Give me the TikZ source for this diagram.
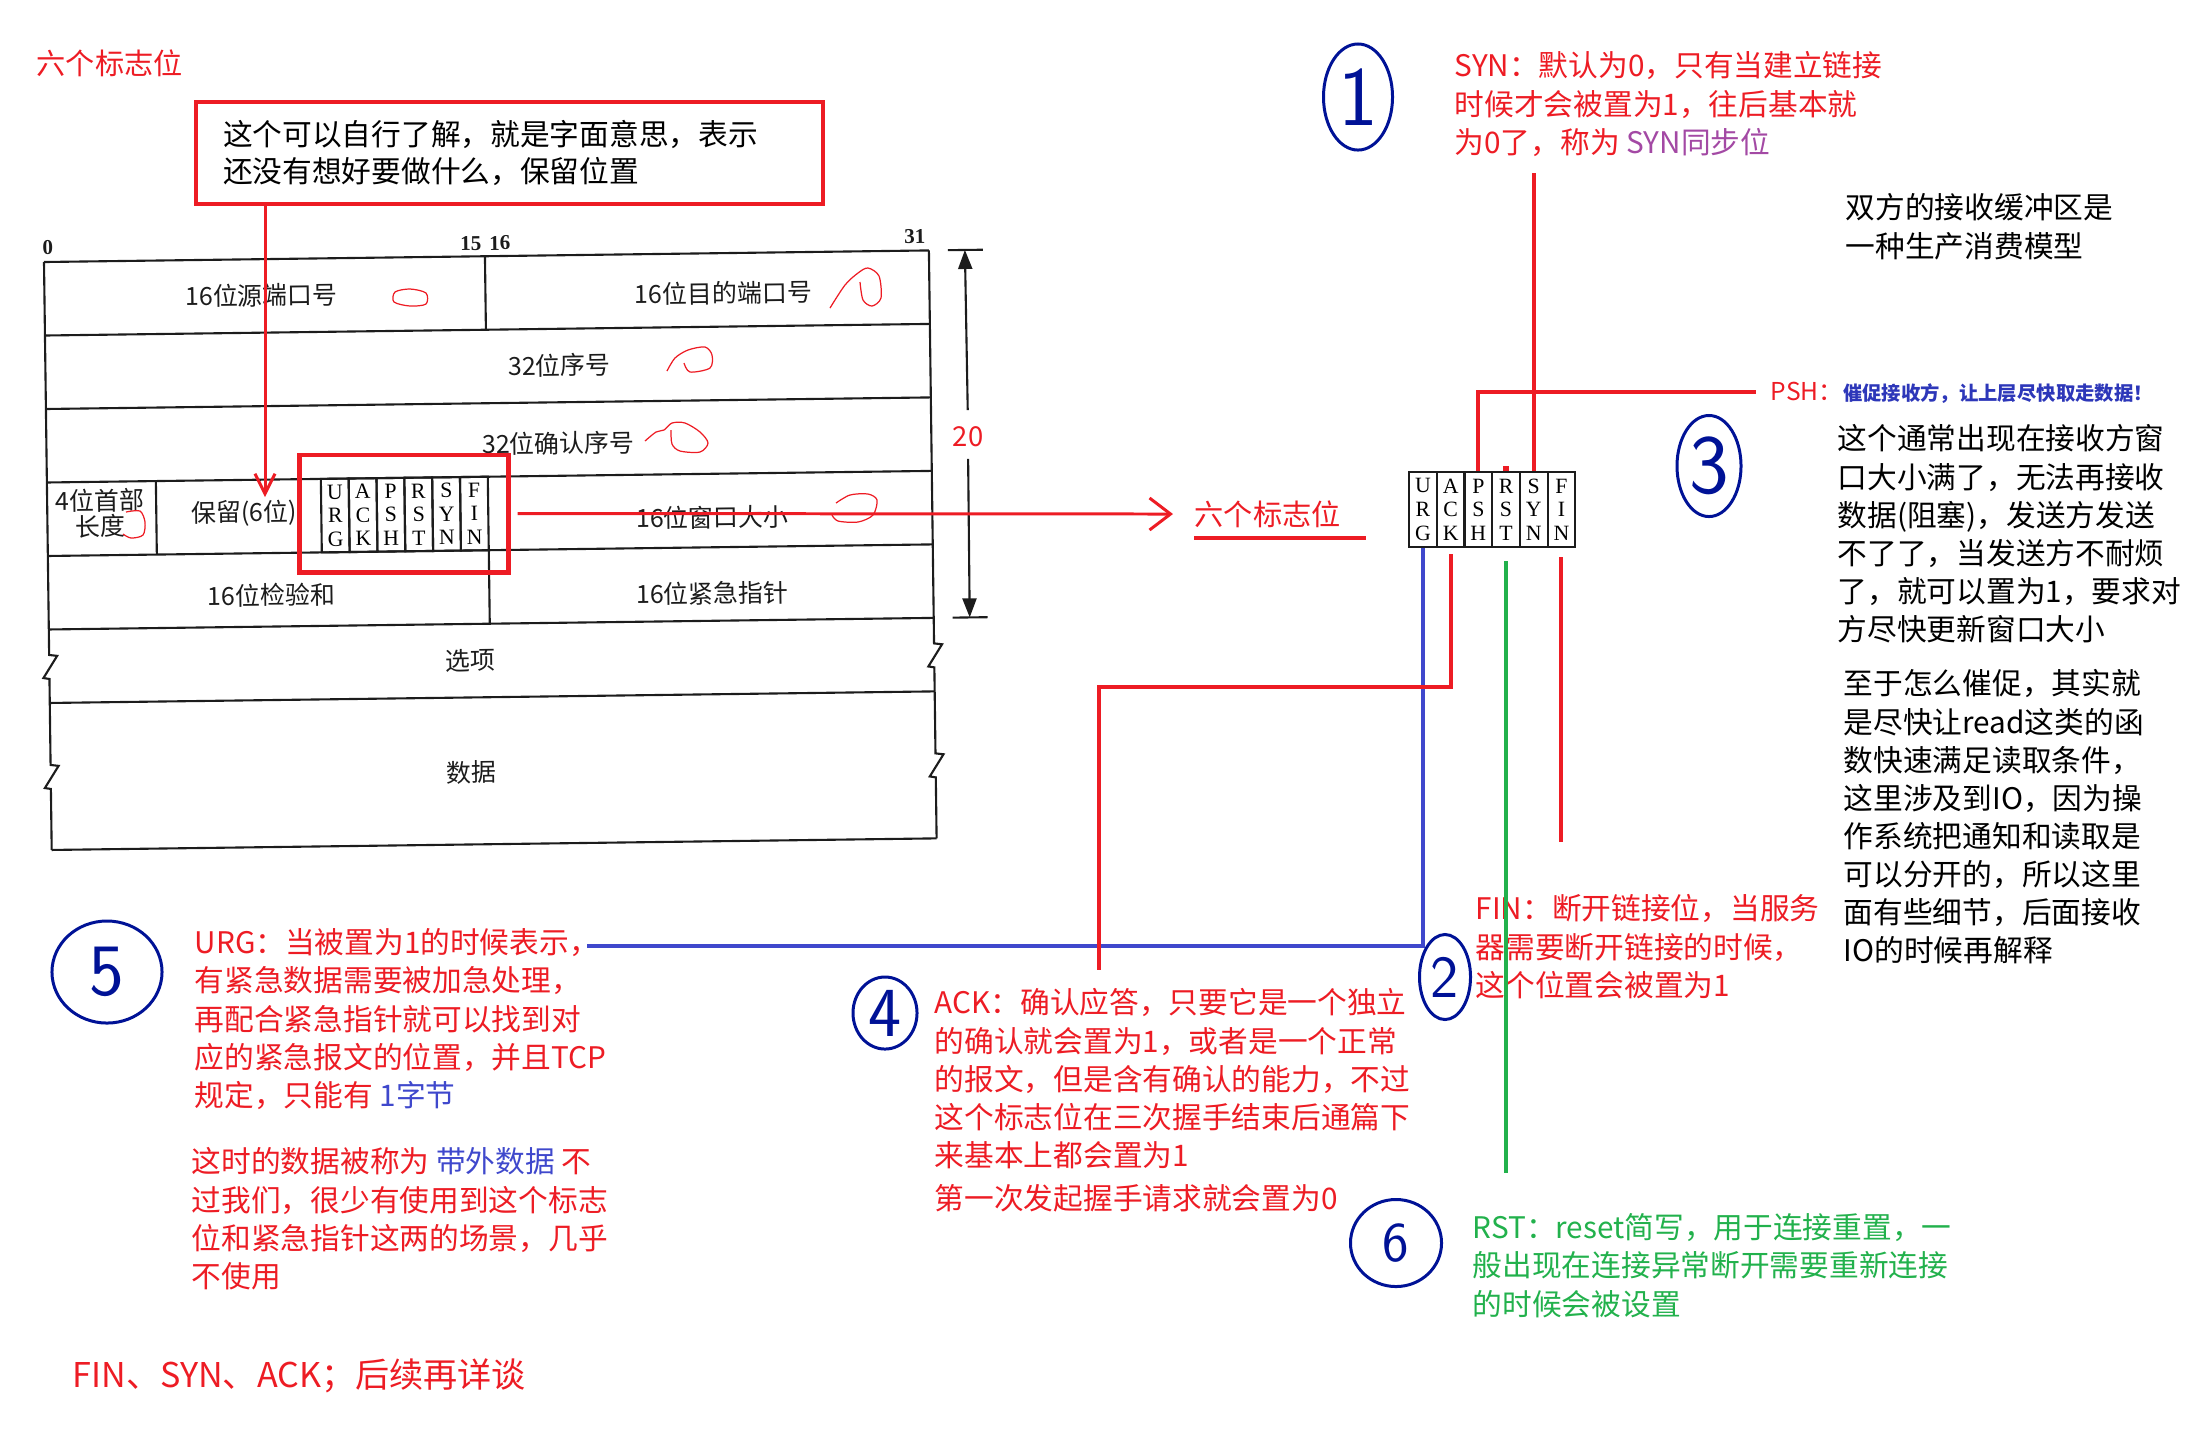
\documentclass[tikz,border=0pt]{standalone}
\usepackage{fontspec}
\usepackage{xcolor}
\usepackage{tikz}
\usetikzlibrary{arrows.meta,shapes.geometric}
\newfontfamily\cjk{Noto Sans CJK SC}
\newfontfamily\hdrserif{Liberation Serif}
\definecolor{figred}{RGB}{237,28,36}
\definecolor{figblue}{RGB}{63,72,204}
\definecolor{figgreen}{RGB}{34,177,76}
\definecolor{figpurple}{RGB}{163,73,164}
\definecolor{fignavy}{RGB}{0,18,150}
\definecolor{figpsh}{RGB}{45,55,185}
\definecolor{figink}{RGB}{28,28,28}
\tikzset{
  hl/.style   ={draw=figink, line width=0.6pt},
  hlab/.style ={font=\cjk\fontsize{7.1}{7.3}\selectfont, text=figink, inner sep=0pt, align=center},
  hnum/.style ={font=\hdrserif\bfseries\fontsize{6}{7}\selectfont, text=figink, inner sep=0pt},
  flg/.style  ={draw=figink, line width=0.6pt, minimum width=0.278cm, minimum height=0.735cm,
                inner sep=0pt, align=center, font=\hdrserif\fontsize{6.2}{6.7}\selectfont},
  ann/.style  ={font=\cjk\fontsize{8.45}{10.85}\selectfont, inner sep=0pt, align=left, anchor=north west},
  rtxt/.style ={ann, text=figred},
  gtxt/.style ={ann, text=figgreen},
  ktxt/.style ={ann, text=black},
  rthin/.style={draw=figred, line width=0.85pt},
  rline/.style={draw=figred, line width=1.15pt},
  bline/.style={draw=figblue, line width=1.15pt},
  gline/.style={draw=figgreen, line width=1.15pt},
  scrib/.style={draw=figred, line width=0.35pt},
  circ/.style ={draw=fignavy, line width=0.85pt, ellipse, inner sep=0pt, text=fignavy},
  dimarr/.style={draw=figink, line width=0.6pt, -{Triangle[length=0.19cm,width=0.14cm]}},
}
\begin{document}
\begin{tikzpicture}[x=0.01cm, y=-0.01cm]
  \useasboundingbox (0,0) rectangle (2186,1438);
  \begin{scope}[shift={(44,262)}, rotate=0.75, transform shape]
  \draw[hl] (0,0) -- (885,0);
  \draw[hl] (0,73.5) -- (885,73.5);
  \draw[hl] (0,147) -- (885,147);
  \draw[hl] (0,220.5) -- (885,220.5);
  \draw[hl] (0,294) -- (885,294);
  \draw[hl] (0,367.5) -- (885,367.5);
  \draw[hl] (0,441) -- (885,441);
  \draw[hl] (0,588) -- (885,588);
  \draw[hl] (0,0) -- (0,393) -- (8,394) -- (-6,416) -- (0,417) -- (0,503) -- (8,504) -- (-6,526) -- (0,527) -- (0,588);
  \draw[hl] (885,0) -- (885,393) -- (893,394) -- (879,416) -- (885,417) -- (885,503) -- (893,504) -- (879,526) -- (885,527) -- (885,588);
  \draw[hl] (441,0) -- (441,73.5);
  \draw[hl] (441,294) -- (441,367.5);
  \draw[hl] (109,220.5) -- (109,294);
  \foreach \a/\b/\c [count=\i from 0] in {U/R/G,A/C/K,P/S/H,R/S/T,S/Y/N,F/I/N}
    \node[flg] (hf\i) at (287.9+27.83*\i,257.25) {\a\\\b\\\c};
  \node[hnum] (bit0) at (4,-14) {0};
  \node[hnum] (bit15) at (427,-13) {15};
  \node[hnum] (bit16) at (456,-13) {16};
  \node[hnum] (bit31) at (871,-14) {31};
  \node[hlab] (srcport) at (217,36) {16位源端口号};
  \node[hlab] (dstport) at (679,40) {16位目的端口号};
  \node[hlab] (seqno) at (514,110) {32位序号};
  \node[hlab] (ackno) at (512,188) {32位确认序号};
  \node[hlab] (hdrlen) at (53,252) {4位首部\\长度};
  \node[hlab] (resv) at (197,254) {保留(6位)};
  \node[hlab] (winsz) at (665,264) {16位窗口大小};
  \node[hlab] (cksum) at (223,336) {16位检验和};
  \node[hlab] (urgptr) at (664,340) {16位紧急指针};
  \node[hlab] (opts) at (421,404) {选项};
  \node[hlab] (payload) at (421,516) {数据};
  \draw[hl] (904,0) -- (939,0);
  \draw[hl] (904,367.5) -- (939,367.5);
  \coordinate (dimtop) at (921,0);
  \coordinate (dimbot) at (921,367.5);
  \end{scope}
  \node[font=\cjk\fontsize{7.8}{8}\selectfont, text=figred, inner sep=0pt] (dimlbl) at (968,437) {20};
  \draw[dimarr, shorten <=0.16cm] (dimlbl.north) -- (dimtop);
  \draw[dimarr, shorten <=0.11cm] (dimlbl.south) -- (dimbot);
  \draw[scrib] plot[smooth cycle] coordinates {(395,292) (410,289) (426,293) (426,304) (410,306) (394,302)};
  \draw[scrib] plot[smooth] coordinates {(830,308) (845,285) (858,273) (868,268) (879,276) (881,298) (872,306) (863,300) (860,282)};
  \draw[scrib] plot[smooth] coordinates {(667,371) (675,358) (688,350) (705,347) (712,355) (710,368) (690,372) (684,363)};
  \draw[scrib] plot[smooth] coordinates {(645,441) (656,432) (664,430) (672,423) (685,423) (700,432) (708,443) (700,452) (680,451) (672,444) (671,430)};
  \draw[scrib] plot[smooth] coordinates {(126,512) (140,511) (145,522) (143,535) (131,538) (123,534)};
  \draw[scrib] plot[smooth] coordinates {(836,503) (850,495) (868,494) (877,500) (873,515) (858,522) (838,521) (832,515)};
  \node[rtxt, anchor=west, font=\cjk\fontsize{8.3}{9}\selectfont] (toplbl) at (36,63) {六个标志位};
  \node[ktxt, draw=figred, line width=1.15pt, minimum width=6.27cm, minimum height=1.02cm,
        text width=5.73cm, inner xsep=0.27cm, inner ysep=0pt,
        font=\cjk\fontsize{8.45}{10.5}\selectfont] (notebox) at (194,100)
        {这个可以自行了解，就是字面意思，表示\\还没有想好要做什么，保留位置};
  \coordinate (resvtip) at (265,497);
  \draw[rthin, -{Straight Barb[length=0.2cm,width=0.2cm]}] (notebox.south -| resvtip) -- (resvtip);
  \node[draw=figred, line width=1.4pt, minimum width=2.08cm, minimum height=1.17cm, inner sep=0pt] (flagbox) at (404,513.5) {};
  \node[rtxt, anchor=west, font=\cjk\fontsize{8.3}{9}\selectfont] (sixlbl) at (1194,514) {六个标志位};
  \draw[rthin, -{Straight Barb[length=0.21cm,width=0.32cm]}] ([xshift=0.07cm]flagbox.east) -- ([xshift=-0.21cm]sixlbl.west);
  \draw[rline] ([yshift=-0.095cm]sixlbl.south west) -- ++(172,0);
  \foreach \a/\b/\c/\n [count=\i from 0] in {U/R/G/urg,A/C/K/ack,P/S/H/psh,R/S/T/rst,S/Y/N/syn,F/I/N/fin}
    \node[flg, minimum width=0.277cm, minimum height=0.75cm] (\n) at (1422.9+27.7*\i,509.5) {\a\\\b\\\c};
  \node[rtxt] (synnote) at (1454,51) {SYN：默认为0，只有当建立链接\\时候才会被置为1，往后基本就\\为0了，称为 {\color{figpurple}SYN同步位}};
  \node[ktxt] (bufnote) at (1845,193) {双方的接收缓冲区是\\一种生产消费模型};
  \node[rtxt, anchor=west] (pshnote) at (1770,393) {{\fontsize{7}{8}\selectfont PSH：}{\color{figpsh}\bfseries\fontsize{5.5}{6.5}\selectfont 催促接收方，让上层尽快取走数据！}};
  \node[ktxt] (winnote) at (1837,424) {这个通常出现在接收方窗\\口大小满了，无法再接收\\数据(阻塞)，发送方发送\\不了了，当发送方不耐烦\\了，就可以置为1，要求对\\方尽快更新窗口大小};
  \node[ktxt] (pushnote) at (1843,669) {至于怎么催促，其实就\\是尽快让read这类的函\\数快速满足读取条件，\\这里涉及到IO，因为操\\作系统把通知和读取是\\可以分开的，所以这里\\面有些细节，后面接收\\IO的时候再解释};
  \node[rtxt] (finnote) at (1475,894) {FIN：断开链接位，当服务\\器需要断开链接的时候，\\这个位置会被置为1};
  \node[gtxt] (rstnote) at (1472,1213) {RST：reset简写，用于连接重置，一\\般出现在连接异常断开需要重新连接\\的时候会被设置};
  \node[rtxt] (acknote) at (934,988) {ACK：确认应答，只要它是一个独立\\的确认就会置为1，或者是一个正常\\的报文，但是含有确认的能力，不过\\这个标志位在三次握手结束后通篇下\\来基本上都会置为1};
  \node[rtxt] (synack) at (934,1184) {第一次发起握手请求就会置为0};
  \node[rtxt] (urgnote) at (194,928) {URG：当被置为1的时候表示，\\有紧急数据需要被加急处理，\\再配合紧急指针就可以找到对\\应的紧急报文的位置，并且TCP\\规定，只能有 {\color{figblue}1字节}};
  \node[rtxt] (oobnote) at (191,1147) {这时的数据被称为 {\color{figblue}带外数据} 不\\过我们，很少有使用到这个标志\\位和紧急指针这两的场景，几乎\\不使用};
  \node[rtxt, anchor=west, font=\cjk\fontsize{9.7}{11}\selectfont] (endnote) at (72,1376) {FIN、SYN、ACK；后续再详谈};
  \coordinate (syntop) at (1531,173);
  \coordinate (pshend) at (1756,392);
  \coordinate (urgend) at (587,946);
  \coordinate (ackbend) at (1099,687);
  \coordinate (ackend) at (1099,970);
  \coordinate (rstend) at (1503,1173);
  \coordinate (finend) at (1566,842);
  \draw[rline] (syn.north) -- (syn.north |- syntop);
  \draw[rline] (psh.north) |- (pshend);
  \draw[rline, line width=1.8pt] (rst.north) -- ++(0,-5);
  \draw[bline] (urg.south) |- (urgend);
  \draw[rline, shorten <=0.06cm] (ack.south) |- (ackbend) -- (ackend);
  \draw[gline, shorten <=0.13cm] (rst.south) -- (rst.south |- rstend);
  \draw[rline, shorten <=0.09cm] (fin.south) -- (fin.south |- finend);
  \node[circ, minimum width=0.69cm, minimum height=1.06cm, font=\sffamily\fontsize{24}{24}\selectfont] (mk1) at (1358,97) {1};
  \node[circ, minimum width=0.51cm, minimum height=0.85cm, font=\sffamily\fontsize{17}{17}\selectfont] (mk2) at (1445,977) {2};
  \node[circ, minimum width=0.64cm, minimum height=1.01cm, font=\sffamily\fontsize{24}{24}\selectfont] (mk3) at (1709,466) {3};
  \node[circ, minimum width=0.64cm, minimum height=0.72cm, font=\sffamily\fontsize{20}{20}\selectfont] (mk4) at (885,1013) {4};
  \node[circ, minimum width=1.10cm, minimum height=1.02cm, font=\sffamily\fontsize{21}{21}\selectfont] (mk5) at (107,972) {5};
  \node[circ, minimum width=0.91cm, minimum height=0.87cm, font=\sffamily\fontsize{16}{16}\selectfont] (mk6) at (1396,1243) {6};
\end{tikzpicture}
\end{document}
